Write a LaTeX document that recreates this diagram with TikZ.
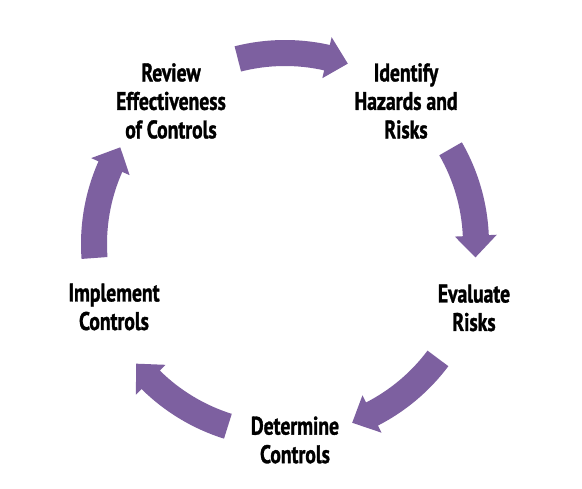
\documentclass[tikz,border=0pt]{standalone}
\usepackage{fontspec}
\newfontfamily\lblfont{PT Sans}[FakeStretch=0.77,FakeBold=1.2]
\definecolor{cyclepurple}{HTML}{7D60A0}
\tikzset{
  lbl/.style={align=center, text=black, inner sep=0pt,
    font=\lblfont\bfseries\fontsize{25.5}{28.5}\selectfont},
  cycfill/.style={fill=cyclepurple}
}
\newcommand\cycarrow[2]{% tail angle, tip angle (clockwise)
  \pgfmathsetmacro\hb{#2+6.5}
  \fill[cycfill] (#1:204) arc[start angle=#1, end angle=\hb, radius=204pt]
    -- (\hb:212) -- (#2:191) -- (\hb:170) -- (\hb:178)
    arc[start angle=\hb, end angle=#1, radius=178pt] -- cycle;}
\begin{document}
\begin{tikzpicture}[x=1pt,y=1pt]
\fill[white] (0,0) rectangle (582,489);
\useasboundingbox (0,0) rectangle (582,489);
\begin{scope}[shift={(285,245)}]
  \cycarrow{104.3}{70.8}
  \cycarrow{29.9}{-4.0}
  \cycarrow{-36.8}{-69.4}
  \cycarrow{-107.4}{-141.2}
  \cycarrow{184.2}{149.6}
\end{scope}
\node[lbl] (review) at (171,388) {Review\\Effectiveness\\of Controls};
\node[lbl] (identify) at (406,388) {Identify\\Hazards and\\Risks};
\node[lbl] (evaluate) at (474,181) {Evaluate\\Risks};
\node[lbl] (determine) at (295,49) {Determine\\Controls};
\node[lbl] (implement) at (114,182) {Implement\\Controls};
\end{tikzpicture}
\end{document}
